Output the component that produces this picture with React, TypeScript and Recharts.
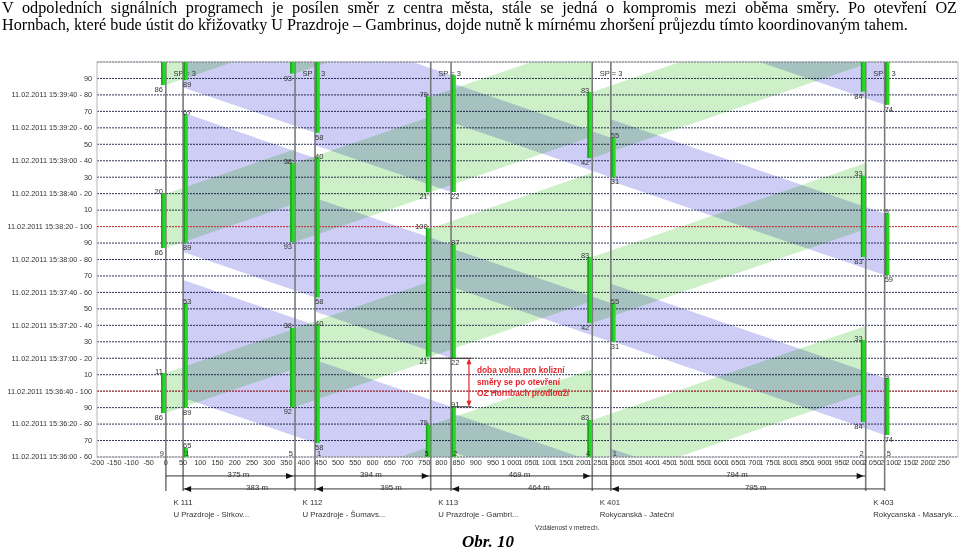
import React from 'react';
import { ComposedChart, Area, XAxis, YAxis, CartesianGrid, ReferenceLine, ReferenceArea, ReferenceDot } from 'recharts';

const intersectionIds = ['K 111', 'K 112', 'K 113', 'K 401', 'K 403'];
const intersectionNames = [
  'U Prazdroje - Sirkov...',
  'U Prazdroje - Šumavs...',
  'U Prazdroje - Gambri...',
  'Rokycanská - Jateční',
  'Rokycanská - Masaryk...',
];
const signalPlans = ['SP = 3', 'SP = 3', 'SP = 3', 'SP = 3', 'SP = 3'];

// stop line distances [m]
const eastDistances = [375, 394, 469, 794];
const westDistances = [383, 395, 464, 795];
const eastFirstStop = 0;
const westFirstStop = 50;

// green windows, seconds after 15:36:00: [start, end, start label, end label]
type Win = [number, number, string, string];
const eastGreen: Win[][] = [
  [[26.7, 51, '86', '11'], [127, 160, '86', '20'], [226, 260, '86', '']],
  [[-68, -22, '', ''], [30.4, 78.4, '92', '38'], [130.6, 178.6, '93', '38'], [233, 278, '93', '']],
  [[-39, 19.5, '', '79'], [61, 139, '21', '100'], [161, 219, '21', '79']],
  [[-18, 22.5, '', '83'], [81.4, 121.5, '42', '83'], [181.6, 221.7, '42', '83']],
  [[21.3, 71, '84', '33'], [121.5, 171, '83', '33'], [222, 273, '84', '']],
];
const westGreen: Win[][] = [
  [[-71, 5.5, '', '65'], [30, 93.5, '89', '53'], [130, 208, '89', '67'], [229, 307, '89', '']],
  [[8.5, 80, '58', '40'], [97, 181.6, '58', '40'], [197, 281, '58', '']],
  [[-38, 30.5, '', '91'], [60, 129, '22', '87'], [161, 232, '22', '']],
  [[-30, -6.5, '', ''], [70, 93.5, '31', '55'], [170, 194, '31', '55']],
  [[-86.6, -52, '', ''], [13.4, 48, '74', '9'], [110.5, 148, '59', '9'], [214, 249, '74', '']],
];
const eastBottomDigits = ['9', '5', '5', '4', '2'];
const westBottomDigits = ['1', '1', '2', '1', '5'];

const yTickLabels = [
  '11.02.2011 15:36:00 - 60', '70', '11.02.2011 15:36:20 - 80', '90', '11.02.2011 15:36:40 - 100', '10',
  '11.02.2011 15:37:00 - 20', '30', '11.02.2011 15:37:20 - 40', '50', '11.02.2011 15:37:40 - 60', '70',
  '11.02.2011 15:38:00 - 80', '90', '11.02.2011 15:38:20 - 100', '10', '11.02.2011 15:38:40 - 20', '30',
  '11.02.2011 15:39:00 - 40', '50', '11.02.2011 15:39:20 - 60', '70', '11.02.2011 15:39:40 - 80', '90',
];
const cycleResets = [40, 140];

const SPEED = 13.9; // m/s, 50 km/h
const T_MAX = 240;
const GREEN = '#cdf0c8';
const BLUE = '#cdcdf5';
const TXT = '#333';

const cum = (first: number, d: number[]) => d.reduce((a, v) => [...a, a[a.length - 1] + v], [first]);
const eastStops = cum(eastFirstStop, eastDistances);
const westStops = cum(westFirstStop, westDistances);

const yTicks = yTickLabels.map((_, i) => i * 10);
const xTicks = Array.from({ length: 50 }, (_, i) => -200 + i * 50);
const fmtX = (n: number) => (n >= 1000 ? `${Math.floor(n / 1000)} ${String(n % 1000).padStart(3, '0')}` : String(n));

// band polygons between consecutive stop lines
const bands: { key: string; fill: string; data: { x: number; r: number[] }[] }[] = [];
eastGreen.slice(0, 4).forEach((wins, i) => {
  const tt = eastDistances[i] / SPEED;
  wins.forEach(([s, e], j) =>
    bands.push({ key: `e${i}-${j}`, fill: GREEN, data: [{ x: eastStops[i], r: [s, e] }, { x: eastStops[i + 1], r: [s + tt, e + tt] }] })
  );
});
westGreen.slice(1).forEach((wins, k) => {
  const i = k + 1;
  const tt = westDistances[i - 1] / SPEED;
  wins.forEach(([s, e], j) =>
    bands.push({ key: `w${i}-${j}`, fill: BLUE, data: [{ x: westStops[i - 1], r: [s + tt, e + tt] }, { x: westStops[i], r: [s, e] }] })
  );
});

const YTick = (p: any) => (
  <text x={p.x} y={p.y} dy="0.32em" textAnchor="end" fontSize={7.3} fill={TXT}>
    {yTickLabels[Math.round(p.payload.value / 10)] ?? ''}
  </text>
);

const barShape = (side: 'e' | 'w', top: string, bottom: string) => (p: any) => {
  const x = p.x1;
  const yT = Math.min(p.y1, p.y2);
  const yB = Math.max(p.y1, p.y2);
  const bx = side === 'e' ? x - 4.8 : x + 0.4;
  const lx = side === 'e' ? x - 3 : x;
  const anchor = side === 'e' ? 'end' : 'start';
  return (
    <g>
      <rect x={bx} y={yT} width={4.4} height={yB - yT} fill="#27d827" />
      <rect x={bx} y={yT} width={1.4} height={yB - yT} fill="#16a016" />
      {top && <text x={lx} y={yT + 0.5} textAnchor={anchor} fontSize={7.5} fill={TXT}>{top}</text>}
      {bottom && <text x={lx} y={yB + 7} textAnchor={anchor} fontSize={7.5} fill={TXT}>{bottom}</text>}
    </g>
  );
};

const stopShape = (side: 'e' | 'w', idx: number) => (p: any) => {
  const x = p.x1;
  const yT = Math.min(p.y1, p.y2);
  const yB = Math.max(p.y1, p.y2);
  return (
    <g>
      <line x1={x} x2={x} y1={yT} y2={yB} stroke="#7a7a7a" strokeWidth={1.6} />
      {side === 'e' && (
        <>
          <text x={x + 7.5} y={yT + 14} fontSize={7.5} fill={TXT}>{signalPlans[idx]}</text>
          <text x={x + 7.5} y={yB + 13.5} fontSize={7.8} fill={TXT}>{intersectionIds[idx]}</text>
          <text x={x + 7.5} y={yB + 25.5} fontSize={7.8} fill={TXT}>{intersectionNames[idx]}</text>
        </>
      )}
    </g>
  );
};

const digitShape = (side: 'e' | 'w', txt: string) => (p: any) => (
  <text x={side === 'e' ? p.cx - 2 : p.cx + 2} y={p.cy - 1} textAnchor={side === 'e' ? 'end' : 'start'} fontSize={7.5} fill={TXT}>
    {txt}
  </text>
);

const dimShape = (dir: 'e' | 'w', label: string) => (p: any) => {
  const xa = Math.min(p.x1, p.x2);
  const xb = Math.max(p.x1, p.x2);
  const y = p.y1;
  const tip = dir === 'e' ? xb - 2 : xa + 1;
  const back = dir === 'e' ? tip - 7 : tip + 7;
  return (
    <g>
      <line x1={xa} x2={xb} y1={y} y2={y} stroke="#333" strokeWidth={1} />
      <polygon points={`${tip},${y} ${back},${y - 3} ${back},${y + 3}`} fill="#111" />
      <text x={(xa + xb) / 2 + 8} y={y + 1} textAnchor="middle" fontSize={7.8} fill={TXT}>{label}</text>
    </g>
  );
};

const noteShape = (p: any) => {
  const x = p.x1;
  const yT = Math.min(p.y1, p.y2);
  const yB = Math.max(p.y1, p.y2);
  const red = '#e3262b';
  return (
    <g>
      <line x1={x} x2={x} y1={yT + 2} y2={yB - 2} stroke={red} strokeWidth={1.2} />
      <polygon points={`${x},${yT} ${x - 2.5},${yT + 6} ${x + 2.5},${yT + 6}`} fill={red} />
      <polygon points={`${x},${yB} ${x - 2.5},${yB - 6} ${x + 2.5},${yB - 6}`} fill={red} />
      <text x={x + 8} y={yT + 15} fontSize={8.3} fontWeight="bold" fill={red}>
        <tspan x={x + 8} dy={0}>doba volna pro kolizní</tspan>
        <tspan x={x + 8} dy={11.5}>směry se po otevření</tspan>
        <tspan x={x + 8} dy={11.5}>OZ Hornbach prodlouží</tspan>
      </text>
    </g>
  );
};

const DIM_E = -11.5;
const DIM_W = -19.4;
const LINE_BOTTOM = -20.7;
const NOTE_X = westStops[2] + 52;
const noteTop = westGreen[2][1][0];
const noteBottom = westGreen[2][0][1];

const clip = (v: number) => Math.max(0, Math.min(T_MAX, v));

export default function App() {
  return (
    <div style={{ position: 'absolute', left: 0, top: 0, width: 960, height: 550, background: '#fff', fontFamily: '"Liberation Sans", Arial, sans-serif' }}>
      <style>{'.band{mix-blend-mode:multiply}'}</style>
      <div style={{ position: 'absolute', left: 2, top: 0, width: 955, fontFamily: '"Liberation Serif", "Times New Roman", serif', fontSize: 16.2, lineHeight: '17px', color: '#000' }}>
        <div style={{ textAlign: 'justify', textAlignLast: 'justify', whiteSpace: 'nowrap' }}>
          V odpoledních signálních programech je posílen směr z centra města, stále se jedná o kompromis mezi oběma směry. Po otevření OZ
        </div>
        <div style={{ whiteSpace: 'nowrap' }}>
          Hornbach, které bude ústit do křižovatky U Prazdroje – Gambrinus, dojde nutně k mírnému zhoršení průjezdu tímto koordinovaným tahem.
        </div>
      </div>
      <div style={{ position: 'absolute', left: 0, top: 0 }}>
        <ComposedChart width={960} height={550} margin={{ top: 62, right: 2, bottom: 73, left: 0 }}>
          <CartesianGrid vertical={false} stroke="#2d3556" strokeDasharray="2 1" />
          <XAxis
            type="number"
            dataKey="x"
            domain={[-200, 2300]}
            allowDataOverflow
            ticks={xTicks}
            interval={0}
            tickFormatter={fmtX}
            tick={{ fontSize: 7.3, fill: TXT }}
            tickLine={false}
            axisLine={false}
            tickSize={0}
            tickMargin={3}
            height={20}
          />
          <YAxis
            type="number"
            domain={[0, T_MAX]}
            allowDataOverflow
            ticks={yTicks}
            interval={0}
            tick={YTick}
            width={97}
            tickSize={0}
            tickMargin={5}
            tickLine={false}
            axisLine={false}
          />
          {bands.map((b) => (
            <Area
              key={b.key}
              className="band"
              data={b.data}
              dataKey="r"
              type="linear"
              stroke="none"
              fill={b.fill}
              fillOpacity={1}
              dot={false}
              activeDot={false}
              legendType="none"
              isAnimationActive={false}
            />
          ))}
          {cycleResets.map((t) => (
            <ReferenceLine key={`red${t}`} y={t} stroke="#d23c3c" strokeDasharray="2 1" />
          ))}
          <ReferenceArea x1={-200} x2={2300} y1={0} y2={T_MAX} fill="none" stroke="#c4c4c4" strokeWidth={1.2} />
          {eastStops.map((x, i) => (
            <ReferenceLine key={`se${i}`} segment={[{ x, y: T_MAX }, { x, y: LINE_BOTTOM }]} ifOverflow="visible" shape={stopShape('e', i)} />
          ))}
          {westStops.map((x, i) => (
            <ReferenceLine key={`sw${i}`} segment={[{ x, y: T_MAX }, { x, y: LINE_BOTTOM }]} ifOverflow="visible" shape={stopShape('w', i)} />
          ))}
          {eastGreen.map((wins, i) =>
            wins
              .filter(([s, e]) => e > 0 && s < T_MAX)
              .map(([s, e, ls, le], j) => (
                <ReferenceLine
                  key={`be${i}-${j}`}
                  segment={[{ x: eastStops[i], y: clip(s) }, { x: eastStops[i], y: clip(e) }]}
                  ifOverflow="visible"
                  shape={barShape('e', e <= T_MAX ? le : '', s >= 0 ? ls : '')}
                />
              ))
          )}
          {westGreen.map((wins, i) =>
            wins
              .filter(([s, e]) => e > 0 && s < T_MAX)
              .map(([s, e, ls, le], j) => (
                <ReferenceLine
                  key={`bw${i}-${j}`}
                  segment={[{ x: westStops[i], y: clip(s) }, { x: westStops[i], y: clip(e) }]}
                  ifOverflow="visible"
                  shape={barShape('w', e <= T_MAX ? le : '', s >= 0 ? ls : '')}
                />
              ))
          )}
          {eastStops.map((x, i) => (
            <ReferenceDot key={`de${i}`} x={x} y={0} r={0} ifOverflow="visible" shape={digitShape('e', eastBottomDigits[i])} />
          ))}
          {westStops.map((x, i) => (
            <ReferenceDot key={`dw${i}`} x={x} y={0} r={0} ifOverflow="visible" shape={digitShape('w', westBottomDigits[i])} />
          ))}
          {eastDistances.map((d, i) => (
            <ReferenceLine
              key={`me${i}`}
              segment={[{ x: eastStops[i], y: DIM_E }, { x: eastStops[i + 1], y: DIM_E }]}
              ifOverflow="visible"
              shape={dimShape('e', `${d} m`)}
            />
          ))}
          {westDistances.map((d, i) => (
            <ReferenceLine
              key={`mw${i}`}
              segment={[{ x: westStops[i], y: DIM_W }, { x: westStops[i + 1], y: DIM_W }]}
              ifOverflow="visible"
              shape={dimShape('w', `${d} m`)}
            />
          ))}
          <ReferenceLine segment={[{ x: eastStops[2], y: noteTop }, { x: NOTE_X + 8, y: noteTop }]} ifOverflow="visible" stroke="#333" strokeWidth={1} />
          <ReferenceLine segment={[{ x: westStops[2], y: noteBottom }, { x: NOTE_X + 8, y: noteBottom }]} ifOverflow="visible" stroke="#333" strokeWidth={1} />
          <ReferenceLine segment={[{ x: NOTE_X, y: noteTop }, { x: NOTE_X, y: noteBottom }]} ifOverflow="visible" shape={noteShape} />
        </ComposedChart>
      </div>
      <div style={{ position: 'absolute', left: 535, top: 524, fontSize: 6.5, color: TXT }}>Vzdálenost v metrech.</div>
      <div style={{ position: 'absolute', left: 462, top: 532, fontFamily: '"Liberation Serif", "Times New Roman", serif', fontSize: 17, fontWeight: 'bold', fontStyle: 'italic', color: '#000' }}>
        Obr. 10
      </div>
    </div>
  );
}
